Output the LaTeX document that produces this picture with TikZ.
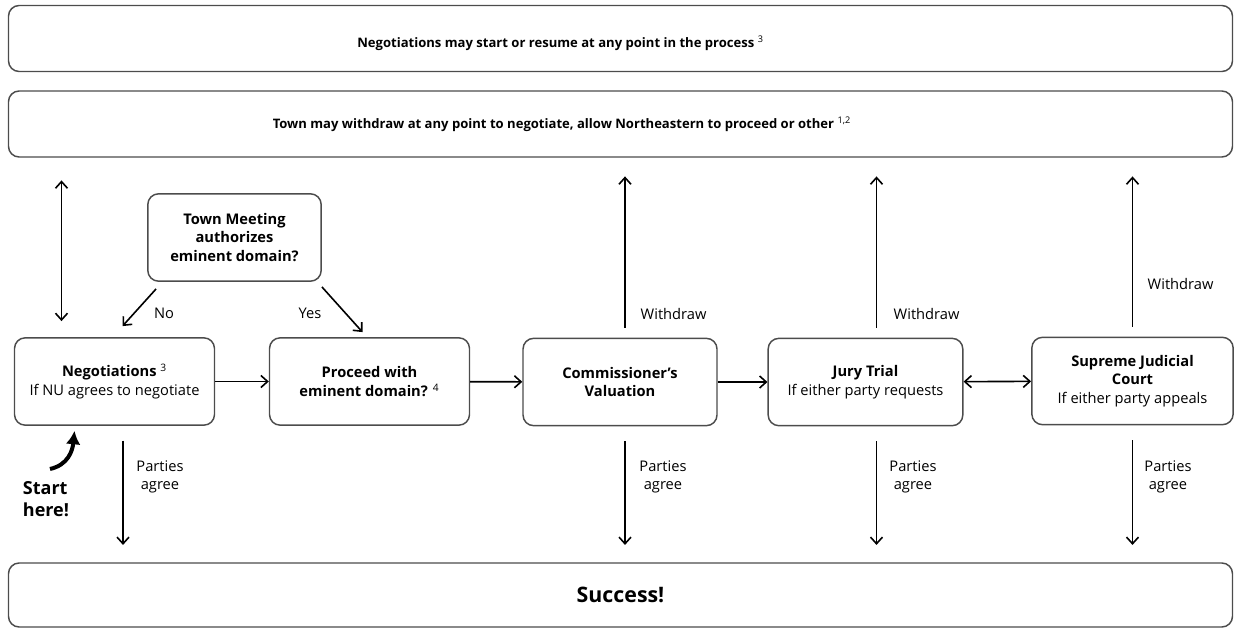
\documentclass[tikz,border=0pt]{standalone}
\usepackage{fontspec}
\setmainfont{Open Sans}
\usetikzlibrary{arrows.meta,calc}

\begin{document}
\begin{tikzpicture}[x=0.75pt, y=-0.75pt,
  >={Straight Barb[length=5pt,width=9pt]},
  every node/.style={font=\fontsize{11}{14}\selectfont},
  box/.style={draw=black!70, line width=1.1pt, rounded corners=8pt,
    align=center, inner sep=2pt},
  banner/.style={box, minimum width=918pt, minimum height=49.5pt,
    font=\bfseries\fontsize{9.8}{12}\selectfont},
  stepbox/.style={box, minimum width=150pt, minimum height=65.5pt},
  arr/.style={->, line width=1.2pt},
  both/.style={<->, line width=1.2pt},
  note/.style={align=center}]
  \useasboundingbox (0,0) rectangle (1235,629);

  % banners (text sits left of centre)
  \node[banner] (resume) at (620.5,38.5)
    {\raisebox{-4.5pt}[7pt][2pt]{Negotiations may start or resume at any point in the process \textsuperscript{\mdseries 3}}\hspace{90pt}};
  \node[banner] (withdraw) at (620.5,124)
    {Town may withdraw at any point to negotiate, allow Northeastern to proceed or other \textsuperscript{\mdseries 1,2}\hspace{88pt}};
  \node[banner, minimum height=48pt, font=\bfseries\fontsize{16}{19}\selectfont]
    (success) at (620.5,595) {Success!};

  % steps
  \node[stepbox, minimum width=130pt] (town) at (234.5,237.5)
    {\textbf{Town Meeting}\\\textbf{authorizes}\\\textbf{eminent domain?}};
  \node[stepbox] (neg) at (114.5,381.5)
    {\textbf{Negotiations} \textsuperscript{3}\\If NU agrees to negotiate};
  \node[stepbox] (proceed) at (369.5,381.5)
    {\textbf{Proceed with}\\\textbf{eminent domain?} \textsuperscript{4}};
  \node[stepbox, minimum width=145.5pt] (comm) at (620,382)
    {\textbf{Commissioner's}\\\textbf{Valuation}};
  \node[stepbox, minimum width=146pt] (jury) at (865.5,382)
    {\textbf{Jury Trial}\\If either party requests};
  \node[stepbox, minimum width=151pt] (sjc) at (1132.5,381)
    {\textbf{Supreme Judicial}\\\textbf{Court}\\If either party appeals};

  \node[font=\bfseries\fontsize{13.5}{16}\selectfont, align=left] (start) at (46,499) {Start\\here!};

  % flow
  \draw[arr] (neg) -- (proceed);
  \draw[arr] (proceed) -- (comm);
  \draw[arr] (comm) -- (jury);
  \draw[both] (jury) -- (sjc);
  \draw[arr] ($(town.south west)+(9,7)$) -- ($(neg.north)+(8,-11)$);
  \draw[arr] ($(town.south east)+(0,5)$) -- ($(proceed.north)+(-7,-5)$);
  \node (no) at (164,313) {No};
  \node (yes) at (310,313) {Yes};

  % withdraw
  \draw[both, shorten <=12pt, shorten >=17pt] ([xshift=-39.75pt]neg.north) -- ([xshift=-39.75pt]neg.north |- withdraw.south);
  \foreach \n/\dx in {comm/3.75, jury/8.25, sjc/0}
    \draw[arr, shorten <=7.5pt, shorten >=14pt] ([xshift=\dx pt]\n.north) -- ([xshift=\dx pt]\n.north |- withdraw.south);
  \node[anchor=west] (w1) at (636,314) {Withdraw};
  \node[anchor=west] (w2) at (889,314) {Withdraw};
  \node[anchor=west] (w3) at (1143,284) {Withdraw};

  % parties agree
  \foreach \n/\dx in {neg/6.375, comm/3.75, jury/8.25, sjc/0}
    \draw[arr, shorten <=11pt, shorten >=13pt] ([xshift=\dx pt]\n.south) -- ([xshift=\dx pt]\n.south |- success.north);
  \foreach \x/\n in {160/p1, 663/p2, 913/p3, 1168/p4}
    \node[note] (\n) at (\x,477) {Parties\\agree};

  % start arrow
  \draw[-{Latex[length=10pt,width=11pt]}, line width=3pt]
    ($(start.north)+(4,-8)$) .. controls +(18,-4) and +(-2,20) .. ($(neg.south)+(-40,5)$);
\end{tikzpicture}
\end{document}
